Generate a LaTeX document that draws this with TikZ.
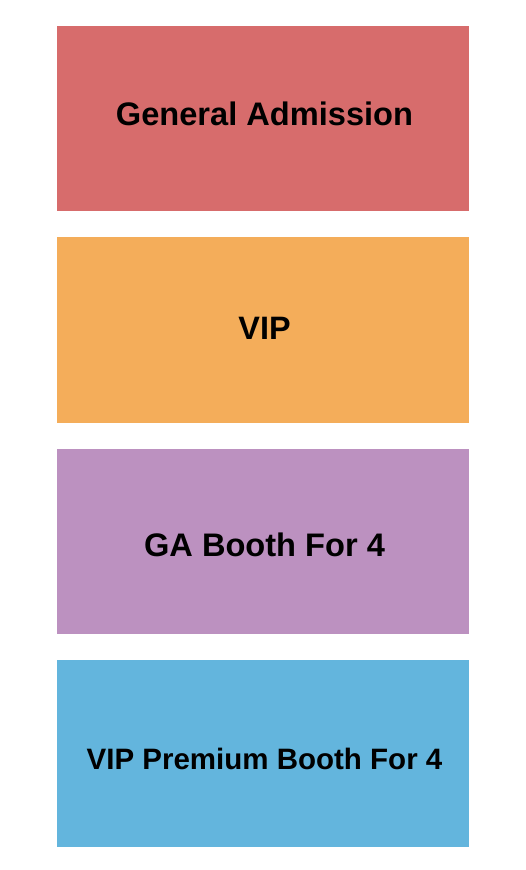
\documentclass[tikz,border=0pt]{standalone}
\usepackage{fontspec}
\setmainfont{Liberation Sans}
\definecolor{gacol}{HTML}{D76C6C}
\definecolor{vipcol}{HTML}{F4AD5A}
\definecolor{gaboothcol}{HTML}{BC91C0}
\definecolor{vipboothcol}{HTML}{63B5DD}
\begin{document}
\begin{tikzpicture}[x=1pt,y=-1pt]
    \useasboundingbox (0,0) rectangle (525,870);
    \foreach \ytop/\ybot/\col in {
      26/211/gacol, 237/423/vipcol,
      449/634/gaboothcol, 660/847/vipboothcol}
    \fill[fill=\col] (57,\ytop) rectangle (469,\ybot);
    \foreach \name/\y/\size/\txt in {
      ga/114/32.6/General Admission,
      vip/328.5/32.4/VIP,
      gabooth/544.5/32.6/GA Booth For 4,
      vipbooth/759/29.5/VIP Premium Booth For 4}
    \node[font=\fontsize{\size}{\size}\selectfont\bfseries] (\name) at (264.5,\y) {\txt};
  \end{tikzpicture}
\end{document}
